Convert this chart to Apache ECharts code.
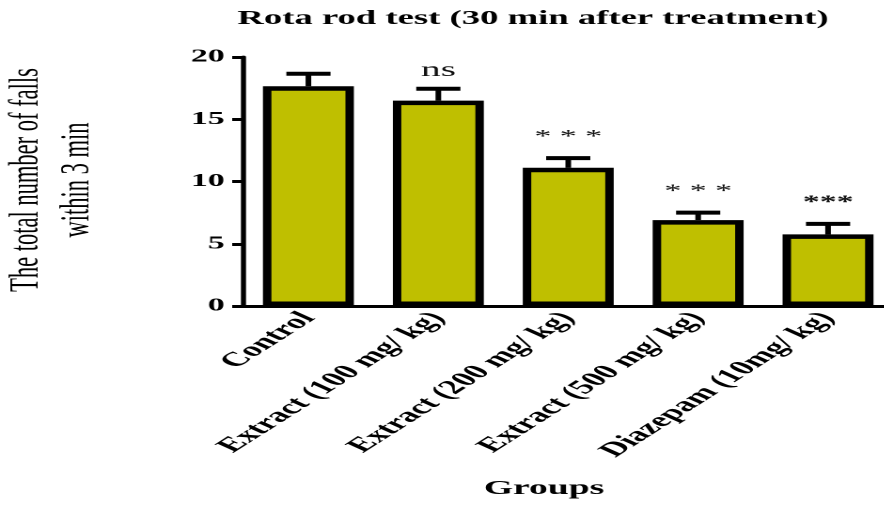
<!DOCTYPE html>
<html>
<head>
<meta charset="utf-8">
<title>Rota rod test</title>
<script src="https://cdn.jsdelivr.net/npm/echarts@6/dist/echarts.min.js"></script>
<style>
  html, body { margin: 0; padding: 0; background: #fff; overflow: hidden; }
  /* the reference is stretched sideways, so draw narrow and widen it */
  #main { width: 480px; height: 506px; transform: scaleX(1.88); transform-origin: 0 0; }
</style>
</head>
<body>
<div id="main"></div>
<script>
const categories = ['Control', 'Extract (100 mg/ kg)', 'Extract (200 mg/ kg)', 'Extract (500 mg/ kg)', 'Diazepam (10mg/ kg)']
const means = [17.65, 16.5, 11.1, 6.9, 5.75]
const sems = [1.0, 0.95, 0.78, 0.6, 0.85]
const marks = ['', 'ns', '* * *', '* * *', '***']
const yTicks = [0, 5, 10, 15, 20]

const serif = 'Liberation Serif'
const chart = echarts.init(document.getElementById('main'), null, { devicePixelRatio: 2 })

const option = {
  animation: false,
  backgroundColor: '#fff',
  title: [
    {
      text: 'Rota rod test (30 min after treatment)',
      left: 283.5, top: 9, padding: 0, textAlign: 'center',
      textStyle: { fontFamily: serif, fontWeight: 'bold', fontSize: 19.5, color: '#000' }
    },
    {
      text: 'Groups',
      left: 289.4, top: 479, padding: 0, textAlign: 'center',
      textStyle: { fontFamily: serif, fontWeight: 'bold', fontSize: 20, color: '#000' }
    }
  ],
  graphic: [{
    type: 'text',
    x: 27.5, y: 180,
    rotation: Math.PI / 2,
    style: {
      text: 'The total number of falls\nwithin 3 min',
      fontFamily: serif, fontSize: 22.5, lineHeight: 27,
      align: 'center', verticalAlign: 'middle', fill: '#000'
    }
  }],
  grid: { left: 129.5, right: 5, top: 57, bottom: 200 },
  xAxis: {
    type: 'category',
    data: categories,
    axisLine: { lineStyle: { color: '#000', width: 3 } },
    axisTick: { alignWithLabel: true, length: 7, lineStyle: { color: '#000', width: 2 } },
    axisLabel: {
      interval: 0, rotate: 50, margin: 9,
      fontFamily: serif, fontWeight: 'bold', fontSize: 20, color: '#000'
    }
  },
  yAxis: {
    type: 'value',
    min: yTicks[0], max: yTicks[yTicks.length - 1], interval: 5,
    axisLine: { show: true, lineStyle: { color: '#000', width: 2.7 } },
    axisTick: { show: true, length: 6, lineStyle: { color: '#000', width: 3 } },
    axisLabel: { margin: 10, fontFamily: serif, fontWeight: 'bold', fontSize: 18, color: '#000' },
    splitLine: { show: false }
  },
  series: [
    {
      type: 'bar',
      data: means,
      barWidth: '70%',
      itemStyle: { color: '#bfbf00', borderColor: '#000', borderWidth: 4.5 }
    },
    {
      type: 'custom',
      data: means.map((m, i) => [i, m, sems[i]]),
      encode: { x: 0, y: 1 },
      z: 3,
      renderItem(params, api) {
        const i = api.value(0)
        const v = api.value(1)
        const e = api.value(2)
        const base = api.coord([i, v])
        const top = api.coord([i, v + e])
        const w = api.size([1, 0])[0]
        const half = w * 0.17
        const mark = marks[i]
        const isStar = mark.indexOf('*') >= 0
        return {
          type: 'group',
          children: [
            { type: 'line', shape: { x1: base[0], y1: base[1], x2: top[0], y2: top[1] },
              style: { stroke: '#000', lineWidth: 3 } },
            { type: 'line', shape: { x1: top[0] - half, y1: top[1], x2: top[0] + half, y2: top[1] },
              style: { stroke: '#000', lineWidth: 4 } },
            { type: 'text',
              style: {
                text: mark, x: top[0], y: top[1] - (isStar ? 12 : 8),
                align: 'center', verticalAlign: 'bottom',
                fontFamily: serif, fontSize: isStar ? 18 : 21,
                fontWeight: mark === '***' ? 'bold' : 'normal', fill: '#111'
              } }
          ]
        }
      }
    }
  ]
}

chart.setOption(option)
</script>
</body>
</html>
